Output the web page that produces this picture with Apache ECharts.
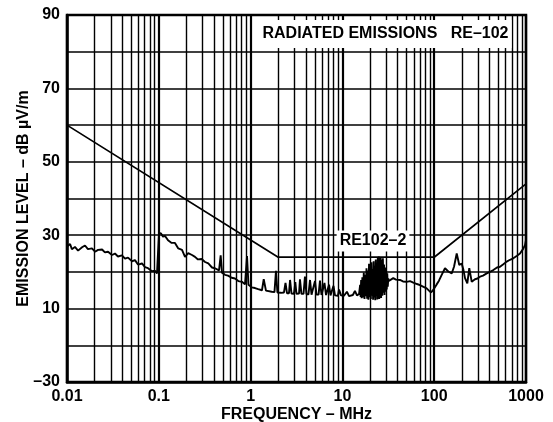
<!DOCTYPE html>
<html>
<head>
<meta charset="utf-8">
<script src="https://cdn.jsdelivr.net/npm/echarts@6/dist/echarts.min.js"></script>
<style>html,body{margin:0;padding:0;background:#fff;}#c{width:553px;height:422px;}</style>
</head>
<body>
<div id="c"></div>
<script>
// ---- data ----
var xTickValues = [0.01, 0.1, 1, 10, 100, 1000];
var xTickLabels = ['0.01', '0.1', '1', '10', '100', '1000'];
var yTickValues = [90, 70, 50, 30, 10, -10];
var yTickLabels = ['90', '70', '50', '30', '10', '\u201330'];

var limitFreq = [0.01, 2, 100, 1000];
var limitLevel = [60, 24, 24, 44];

var traceFreq = [
  0.01, 0.0108, 0.0113, 0.0122, 0.0132, 0.0146, 0.0157, 0.0169, 0.0187, 0.0202,
  0.0218, 0.0241, 0.0259, 0.028, 0.0309, 0.0333, 0.0359, 0.0397, 0.0428, 0.0462,
  0.0511, 0.055, 0.0593, 0.0656, 0.0707, 0.0763, 0.0843, 0.0909, 0.0956, 0.0995,
  0.1005, 0.1057, 0.1111, 0.117, 0.126, 0.138, 0.15, 0.163, 0.179, 0.193,
  0.209, 0.23, 0.248, 0.267, 0.293, 0.319, 0.346, 0.38, 0.409, 0.453,
  0.472, 0.488, 0.526, 0.567, 0.622, 0.676, 0.735, 0.806, 0.869, 0.914,
  0.948, 1.03, 1.116, 1.21, 1.33, 1.39, 1.47, 1.70, 1.82, 1.89,
  1.96, 2.14, 2.31, 2.40, 2.49, 2.62, 2.69, 2.79, 2.97, 3.07,
  3.16, 3.37, 3.45, 3.58, 3.77, 3.91, 4.06, 4.27, 4.44, 4.61,
  4.84, 5.03, 5.22, 5.50, 5.70, 5.92, 6.22, 6.38, 6.63, 6.97,
  7.15, 7.42, 7.80, 8.00, 8.30, 8.95, 9.18, 9.66, 10.4, 11.2,
  11.8, 13.0, 13.7, 14.4, 15.2,
  15.4, 15.6, 15.8, 16.0, 16.2, 16.5, 16.8, 17.1, 17.4, 17.7,
  18.0, 18.3, 18.6, 18.9, 19.2, 19.5, 19.8, 20.1, 20.4, 20.7,
  21.0, 21.3, 21.6, 21.9, 22.2, 22.5, 22.8, 23.1, 23.4, 23.7,
  24.0, 24.3, 24.6, 24.9, 25.2, 25.5, 25.8, 26.1, 26.4, 26.8,
  27.2, 27.6, 28.0, 28.4, 28.8, 29.2, 29.6, 30.0, 30.4, 30.8,
  31.2, 31.6, 32.0,
  33.0, 35.8, 38.3, 42.4, 45.7, 50.1, 54.5, 59.2, 65.0, 70.0,
  75.5, 82.8, 87.7, 92.3, 97.1, 106.4, 112.7, 120.7, 126.3, 131.1,
  142.5, 155.2, 164.4, 175.9, 187.6, 199.3, 208.4, 216.6, 229.5, 241.0,
  256.4, 278.2, 296.3, 315.6, 340.4, 373.3, 405.5, 440.6, 483.1, 521.0,
  561.5, 616.1, 669.3, 727.3, 798.2, 860.4, 927.4, 975.0, 1000
];
var traceLevel = [
  26.9, 27.6, 26.2, 26.8, 25.8, 26.7, 27.2, 26.2, 26.4, 25.5,
  26.0, 26.1, 25.3, 25.5, 24.6, 25.0, 24.2, 24.5, 23.6, 23.9,
  22.9, 23.2, 22.0, 22.3, 21.3, 21.0, 20.2, 20.3, 19.6, 19.3,
  30.6, 30.5, 29.6, 29.8, 28.6, 27.9, 27.9, 26.4, 26.0, 24.1,
  25.1, 24.6, 24.1, 23.4, 23.5, 22.7, 22.3, 21.2, 21.0, 20.4,
  24.5, 19.8, 19.2, 19.0, 18.4, 18.2, 17.5, 17.3, 16.6, 24.3,
  16.5, 15.8, 15.6, 15.3, 15.0, 18.0, 14.9, 14.6, 14.5, 20.3,
  14.4, 14.3, 14.4, 17.0, 14.2, 14.2, 17.8, 14.1, 14.0, 17.2,
  14.0, 14.1, 18.0, 14.0, 14.0, 18.7, 13.9, 13.9, 17.8, 13.8,
  13.9, 17.5, 13.8, 13.8, 17.6, 13.7, 13.8, 17.0, 13.7, 13.7,
  16.5, 13.6, 13.6, 16.2, 13.6, 13.5, 15.2, 13.6, 13.5, 14.6,
  13.4, 13.7, 14.8, 13.6, 14.0,
  14.2, 16.5, 13.2, 17.8, 12.8, 18.5, 13.0, 19.8, 12.6, 19.2,
  13.4, 21.0, 12.7, 20.4, 12.4, 22.2, 13.1, 21.5, 12.6, 22.6,
  13.5, 20.8, 12.4, 22.9, 13.0, 21.7, 12.3, 23.4, 13.6, 22.0,
  12.5, 23.8, 13.2, 24.2, 12.6, 22.8, 13.8, 24.0, 12.9, 23.3,
  13.5, 23.7, 14.3, 22.0, 13.7, 21.2, 14.6, 20.0, 15.2, 19.6,
  16.0, 18.2, 17.5,
  17.8, 18.3, 17.9, 17.8, 17.4, 17.3, 17.5, 17.1, 16.7, 16.4,
  16.0, 15.5, 14.9, 14.4, 15.0, 16.6, 17.6, 19.2, 19.0, 21.0,
  20.1, 19.6, 21.4, 25.0, 21.9, 22.3, 20.5, 18.3, 16.9, 21.0,
  17.3, 18.0, 18.2, 18.7, 19.0, 19.6, 20.0, 20.5, 21.2, 21.4,
  22.0, 22.8, 23.3, 23.7, 24.4, 25.0, 26.2, 27.3, 28.7
];

function zip(a, b) { return a.map(function (v, i) { return [v, b[i]]; }); }

// minor vertical grid lines at 2..9 x each decade
var minorGrid = [];
xTickValues.slice(0, -1).forEach(function (d) {
  for (var k = 2; k <= 9; k++) minorGrid.push({ xAxis: d * k });
});

var FONT = '"Liberation Sans", Arial, sans-serif';
var chart = echarts.init(document.getElementById('c'));
chart.setOption({
  animation: false,
  grid: { left: 67, right: 27, top: 15, bottom: 40, outerBoundsMode: 'none', containLabel: false,
          show: true, borderColor: '#000', borderWidth: 2.5, backgroundColor: 'transparent' },
  xAxis: {
    type: 'log', logBase: 10, min: 0.01, max: 1000, splitNumber: 5,
    name: 'FREQUENCY \u2013 MHz', nameLocation: 'middle', nameGap: 25, nameMoveOverlap: false,
    nameTextStyle: { fontFamily: FONT, fontWeight: 'bold', fontSize: 16, color: '#000' },
    axisLine: { show: true, onZero: false, lineStyle: { color: '#000', width: 2.5 } },
    axisTick: { show: false },
    axisLabel: {
      fontFamily: FONT, fontWeight: 'bold', fontSize: 16, color: '#000', margin: 7,
      formatter: function (v) {
        var e = Math.round(Math.log10(v));
        for (var i = 0; i < xTickValues.length; i++) {
          if (Math.round(Math.log10(xTickValues[i])) === e) return xTickLabels[i];
        }
        return '';
      }
    },
    splitLine: { show: true, lineStyle: { color: '#000', width: 2.2 } }
  },
  yAxis: {
    type: 'value', min: -10, max: 90, interval: 10,
    name: 'EMISSION LEVEL \u2013 dB \u00b5V/m', nameLocation: 'middle', nameGap: 35, nameMoveOverlap: false,
    nameTextStyle: { fontFamily: FONT, fontWeight: 'bold', fontSize: 16, color: '#000' },
    axisLine: { show: true, onZero: false, lineStyle: { color: '#000', width: 2.5 } },
    axisTick: { show: false },
    axisLabel: {
      fontFamily: FONT, fontWeight: 'bold', fontSize: 16, color: '#000', margin: 7,
      formatter: function (v) {
        var i = yTickValues.indexOf(Math.round(v));
        return i >= 0 ? yTickLabels[i] : '';
      }
    },
    splitLine: { show: true, lineStyle: { color: '#000', width: 1.6 } }
  },
  series: [
    {
      type: 'line', data: [], z: 1, silent: true,
      markLine: {
        silent: true, symbol: ['none', 'none'], label: { show: false },
        lineStyle: { color: '#000', width: 1.4, type: 'solid' },
        emphasis: { disabled: true },
        data: minorGrid
      }
    },
    {
      name: 'RE102-2 limit', type: 'line', data: zip(limitFreq, limitLevel), z: 3,
      showSymbol: false, symbol: 'none', lineStyle: { color: '#000', width: 1.7 }
    },
    {
      name: 'emission', type: 'line', data: zip(traceFreq, traceLevel), z: 4,
      showSymbol: false, symbol: 'none', lineStyle: { color: '#000', width: 1.9 }
    }
  ],
  graphic: [
    {
      type: 'text', x: 385, y: 34, z: 100,
      style: {
        text: 'RADIATED EMISSIONS   RE\u2013102', fill: '#000',
        font: 'bold 16px ' + FONT, align: 'center', verticalAlign: 'middle',
        backgroundColor: '#fff', padding: [6, 3, 6, 4]
      }
    },
    {
      type: 'text', x: 373, y: 241, z: 100,
      style: {
        text: 'RE102\u20132', fill: '#000',
        font: 'bold 16px ' + FONT, align: 'center', verticalAlign: 'middle',
        backgroundColor: '#fff', padding: [3, 3, 2, 3]
      }
    }
  ]
});
</script>
</body>
</html>
